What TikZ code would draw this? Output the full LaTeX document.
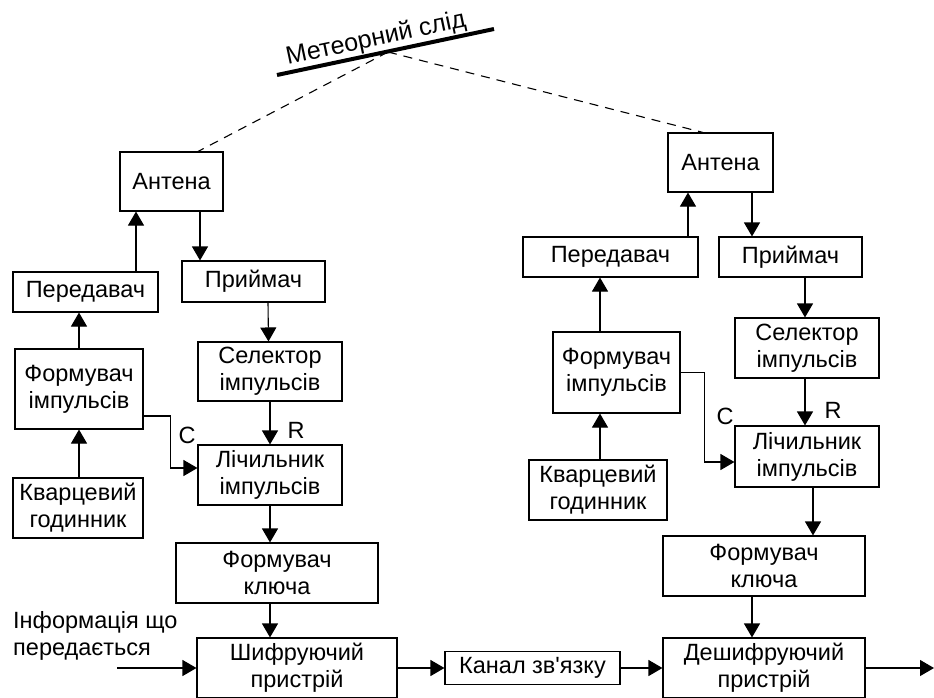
\documentclass[tikz,border=0pt]{standalone}
\usepackage{fontspec}
\setmainfont{Liberation Sans}
\usetikzlibrary{arrows.meta}

\tikzset{
  blk/.style 2 args={draw, line width=1.1pt, minimum width=#1pt, minimum height=#2pt,
    inner sep=0pt, align=center, font=\fontsize{23.5}{27}\selectfont},
  arr/.style={line width=1.1pt, -{Triangle[length=14pt,width=16pt]}},
  lbl/.style={inner sep=0pt, font=\fontsize{23.5}{27}\selectfont},
  ray/.style={line width=1.1pt, dash pattern=on 9pt off 7pt},
}

\begin{document}
\begin{tikzpicture}[x=1pt,y=-1pt]
\useasboundingbox (0,0) rectangle (934,697);

% meteor trail
\coordinate (m1) at (277,75);
\coordinate (m2) at (494,29);
\coordinate (hit) at (388,52);
\path[draw,line width=4pt] (m1) -- (m2);
\node[lbl,rotate=12,font=\fontsize{25}{27}\selectfont] (met) at (376,39) {Метеорний слід};

% left station
\node[blk={103}{59}] (antL) at (171.5,181.5) {Антена};
\node[blk={145}{40}] (perL) at (85.5,292) {Передавач};
\node[blk={143}{41}] (priL) at (253.5,281.5) {Приймач};
\node[blk={128}{80}] (forL) at (79,389) {Формувач\\імпульсів};
\node[blk={144}{59}] (selL) at (270,371.5) {Селектор\\імпульсів};
\node[blk={144}{60}] (licL) at (270,475) {Лічильник\\імпульсів};
\node[blk={130}{60}] (kvaL) at (78,508) {Кварцевий\\годинник};
\node[blk={202}{60}] (klL) at (277,573) {Формувач\\ключа};
\node[blk={200}{60}] (shyf) at (297,668) {Шифруючий\\пристрій};
\node[lbl] (cL) at (187,435) {C};
\node[lbl] (rL) at (296,430) {R};
\node[lbl,anchor=west,align=left] (info) at (13,636) {Інформація що\\передається};
\coordinate (inf) at (117,668);

% channel
\node[blk={175}{33}] (kan) at (532.5,668) {Канал зв\textquotesingle язку};

% right station
\node[blk={105}{59}] (antR) at (720.5,162.5) {Антена};
\node[blk={175}{40}] (perR) at (610.5,257) {Передавач};
\node[blk={143}{40}] (priR) at (790.5,257) {Приймач};
\node[blk={127}{81}] (forR) at (616.5,372.5) {Формувач\\імпульсів};
\node[blk={144}{60}] (selR) at (807,348) {Селектор\\імпульсів};
\node[blk={144}{61}] (licR) at (807,456.5) {Лічильник\\імпульсів};
\node[blk={138}{60}] (kvaR) at (598,490) {Кварцевий\\годинник};
\node[blk={202}{60}] (klR) at (764,566) {Формувач\\ключа};
\node[blk={202}{60}] (desh) at (764,668) {Дешифруючий\\пристрій};
\node[lbl] (cR) at (725,416) {C};
\node[lbl] (rR) at (833,410) {R};
\coordinate (out) at (934,668);

% radio path
\path[draw,ray] (hit) -- ([xshift=26.5pt]antL.north);
\path[draw,ray] (hit) -- ([xshift=-17.5pt]antR.north);

% left links
\path[draw,arr] ([xshift=50.5pt]perL.north) -- ([xshift=-35.5pt]antL.south);
\path[draw,arr] ([xshift=28.5pt]antL.south) -- ([xshift=-53.5pt]priL.north);
\path[draw,arr] (forL.north) -- ([xshift=-6.5pt]perL.south);
\path[draw,arr] ([xshift=1pt]kvaL.north) -- (forL.south);
\path[draw,arr] ([xshift=14.5pt]priL.south) -- ([xshift=-1.5pt]selL.north);
\path[draw,arr] (selL.south) -- (licL.north);
\path[draw,arr] (licL.south) -- ([xshift=-7pt]klL.north);
\path[draw,arr] ([xshift=-7pt]klL.south) -- ([xshift=-27pt]shyf.north);
\path[draw,arr] ([yshift=-27pt]forL.east) -- ++(27,0) |- ([yshift=7pt]licL.west);
\path[draw,arr] (inf) -- (shyf.west);
\path[draw,arr] (shyf.east) -- (kan.west);
\path[draw,arr] (kan.east) -- (desh.west);

% right links
\path[draw,arr] ([xshift=77.5pt]perR.north) -- ([xshift=-32.5pt]antR.south);
\path[draw,arr] ([xshift=31.5pt]antR.south) -- ([xshift=-38.5pt]priR.north);
\path[draw,arr] ([xshift=-16.5pt]forR.north) -- ([xshift=-10.5pt]perR.south);
\path[draw,arr] ([xshift=2pt]kvaR.north) -- ([xshift=-16.5pt]forR.south);
\path[draw,arr] ([xshift=14.5pt]priR.south) -- ([xshift=-2pt]selR.north);
\path[draw,arr] ([xshift=-2pt]selR.south) -- ([xshift=-2pt]licR.north);
\path[draw,arr] ([xshift=6pt]licR.south) -- ([xshift=49pt]klR.north);
\path[draw,arr] ([xshift=-12pt]klR.south) -- ([xshift=-12pt]desh.north);
\path[draw,arr] (forR.east) -- ++(24,0) |- ([yshift=-5.5pt]licR.west);
\path[draw,arr] (desh.east) -- (out);
\end{tikzpicture}
\end{document}
